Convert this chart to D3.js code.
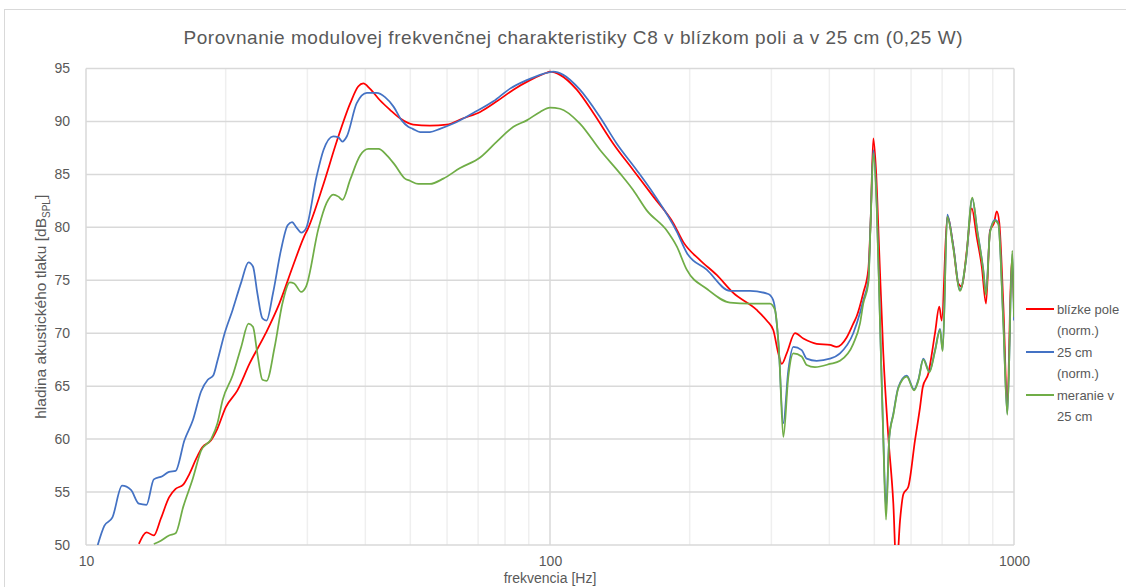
<!DOCTYPE html>
<html>
<head>
<meta charset="utf-8">
<script src="https://cdn.jsdelivr.net/npm/d3@7"></script>
<style>
  body { margin: 0; background: #fff; }
  svg { display: block; font-family: "Liberation Sans", Arial, sans-serif; }
</style>
</head>
<body>
<svg id="chart"></svg>
<script>
const width = 1126;
const height = 587;

// [frequency Hz, level dB]
const nearField = [
  [13.0, 50.1], [13.5, 51.2], [14.0, 50.9], [14.5, 52.5], [15.1, 54.5], [15.6, 55.3], [16.2, 55.7],
  [16.7, 56.7], [17.3, 58.2], [17.8, 59.2], [18.6, 59.9], [19.2, 61.0], [20.0, 63.0], [21.2, 64.6],
  [22.5, 67.1], [24.4, 70.0], [26.1, 72.8], [27.9, 76.3], [29.5, 79.1], [30.1, 79.9], [32.5, 84.1],
  [34.7, 88.1], [37.1, 91.7], [38.6, 93.3], [39.6, 93.6], [40.9, 93.1], [43.0, 92.0], [45.2, 91.1],
  [47.5, 90.3], [50.7, 89.7], [55.1, 89.6], [59.9, 89.7], [65.0, 90.3], [70.7, 90.9], [76.8, 91.9],
  [83.4, 93.0], [90.6, 93.9], [98.4, 94.6], [100, 94.7], [105.1, 94.4], [114.2, 93.0], [124.0, 90.8],
  [136.9, 87.9], [151.2, 85.4], [167.0, 82.9], [184.4, 80.4], [193.8, 78.6], [210.5, 76.9],
  [228.7, 75.5], [248.3, 73.8], [278.9, 72.2], [293.1, 71.2], [302.8, 70.3], [310.5, 68.1],
  [315.8, 67.1], [323.7, 68.1], [337.3, 70.0], [351.5, 69.5], [375.6, 69.0], [401.2, 68.9],
  [414.8, 68.7], [435.9, 69.6], [450.4, 70.9], [458.1, 71.6], [473.3, 73.8], [485.3, 76.0],
  [491.0, 80.7], [497.5, 88.4], [504.2, 85.4], [512.5, 77.5], [522.8, 68.1], [536.0, 60.2],
  [549.5, 53.9], [558.0, 47.5], [568.0, 52.3], [577.4, 54.8], [591.9, 55.5], [611.9, 59.9],
  [627.3, 63.0], [635.8, 64.9], [653.7, 66.2], [675.7, 70.0], [690.2, 72.5], [698.6, 71.2],
  [718.2, 81.0], [740.0, 78.2], [758.6, 74.7], [771.6, 74.4], [791.1, 77.8], [810.9, 81.8],
  [831.0, 79.1], [852.2, 76.3], [870.3, 72.8], [887.8, 79.7], [905.6, 80.4], [917.8, 81.5],
  [929.8, 80.4], [948.2, 72.8], [967.4, 63.4], [988.6, 76.9], [1000, 72.5]
];

const cm25 = [
  [10.6, 50.0], [10.95, 51.8], [11.4, 52.6], [11.96, 55.6], [12.5, 55.2], [13.0, 53.9], [13.5, 53.8],
  [14.0, 56.2], [14.6, 56.5], [15.1, 56.9], [15.6, 57.0], [16.3, 59.9], [17.0, 61.8], [17.7, 64.5],
  [18.3, 65.6], [18.8, 66.0], [19.2, 67.4], [19.9, 70.0], [20.7, 72.2], [21.6, 74.8], [22.4, 76.7],
  [22.9, 76.3], [23.4, 73.8], [24.0, 71.4], [24.5, 71.2], [25.3, 73.8], [26.3, 77.8], [27.2, 80.2],
  [27.8, 80.5], [28.4, 80.0], [29.1, 79.5], [29.8, 79.9], [31.4, 84.8], [32.5, 87.3], [34.1, 88.6],
  [35.0, 88.5], [35.7, 88.1], [36.5, 88.6], [38.3, 91.7], [40.3, 92.7], [42.3, 92.7], [44.1, 92.3],
  [46.0, 91.4], [47.9, 90.1], [49.5, 89.5], [50.6, 89.3], [52.5, 89.0], [55.1, 89.0], [57.9, 89.3],
  [61.9, 89.8], [68.3, 90.8], [75.5, 91.9], [82.0, 93.1], [89.1, 93.9], [96.7, 94.5], [101.6, 94.7],
  [106.8, 94.4], [116.0, 93.0], [128.2, 90.4], [139.3, 87.9], [153.8, 85.4], [167.0, 83.2],
  [187.6, 79.6], [197.1, 77.6], [217.6, 76.0], [244.3, 74.0], [269.8, 74.0], [295.4, 73.7],
  [302.8, 73.1], [310.5, 69.3], [318.3, 61.5], [326.3, 66.5], [334.5, 68.7], [348.7, 68.4],
  [357.4, 67.6], [375.6, 67.4], [401.2, 67.6], [421.7, 68.1], [450.4, 70.0], [465.6, 71.9],
  [473.3, 73.1], [485.3, 75.0], [491.0, 80.7], [497.5, 87.3], [505.9, 82.3], [514.3, 71.2],
  [522.8, 60.2], [529.9, 53.5], [538.6, 60.2], [549.5, 62.4], [563.2, 64.9], [587.3, 66.0],
  [608.9, 64.7], [622.0, 65.6], [637.6, 67.6], [657.0, 66.4], [675.7, 68.4], [692.7, 70.4],
  [701.9, 68.4], [718.2, 81.2], [740.0, 78.2], [764.9, 74.1], [788.1, 76.9], [813.0, 82.7],
  [833.5, 79.7], [858.6, 76.0], [870.3, 73.8], [887.8, 79.6], [910.0, 80.7], [925.1, 80.4],
  [948.2, 71.2], [967.4, 62.4], [991.5, 77.5], [1000, 71.2]
];

const measured = [
  [14.0, 50.1], [14.5, 50.4], [15.1, 50.9], [15.6, 51.1], [16.2, 53.6], [17.0, 56.3], [17.7, 58.9],
  [18.6, 60.0], [19.2, 61.5], [19.7, 63.7], [20.7, 66.0], [21.6, 68.7], [22.4, 70.9], [22.9, 70.6],
  [23.4, 68.1], [24.0, 65.6], [24.5, 65.5], [25.5, 68.7], [26.5, 72.8], [27.5, 74.8], [28.1, 74.7],
  [29.1, 73.9], [29.8, 74.4], [31.7, 79.9], [33.0, 82.3], [34.1, 83.1], [35.0, 82.9], [35.7, 82.6],
  [37.1, 84.5], [39.0, 86.8], [40.6, 87.4], [42.7, 87.4], [44.5, 86.8], [46.3, 85.9], [48.7, 84.6],
  [49.9, 84.4], [52.0, 84.1], [55.1, 84.1], [58.9, 84.6], [64.0, 85.6], [70.7, 86.6], [76.8, 88.1],
  [83.4, 89.5], [89.1, 90.1], [95.2, 90.9], [100, 91.3], [105.1, 91.2], [116.0, 89.8], [128.2, 87.3],
  [141.5, 85.1], [151.2, 83.5], [161.6, 81.6], [178.5, 79.7], [187.6, 78.2], [197.1, 76.0],
  [217.6, 74.2], [244.3, 72.9], [269.8, 72.8], [297.9, 72.8], [305.4, 72.2], [312.0, 67.8],
  [318.3, 60.2], [326.3, 65.9], [334.5, 68.1], [348.7, 67.8], [357.4, 67.0], [372.4, 66.8],
  [401.2, 67.1], [421.7, 67.4], [450.4, 69.0], [465.6, 70.9], [473.3, 72.8], [485.3, 74.7],
  [491.0, 80.5], [497.5, 87.0], [505.9, 82.0], [514.3, 71.0], [522.8, 60.0], [529.9, 52.4],
  [538.6, 60.2], [549.5, 62.3], [563.2, 64.8], [587.3, 65.9], [608.9, 64.6], [622.0, 65.5],
  [637.6, 67.5], [657.0, 66.3], [675.7, 68.3], [692.7, 70.3], [701.9, 68.3], [718.2, 81.0],
  [740.0, 78.0], [764.9, 74.0], [788.1, 77.0], [813.0, 82.8], [833.5, 79.6], [858.6, 75.9],
  [870.3, 73.6], [887.8, 79.5], [910.0, 80.6], [925.1, 80.3], [948.2, 71.0], [967.4, 62.3],
  [991.5, 77.8], [1000, 71.5]
];

const seriesNames = [['blízke pole', '(norm.)'], ['25 cm', '(norm.)'], ['meranie v', '25 cm']];
const seriesColors = ['#ff0000', '#4472c4', '#70ad47'];
const yTicks = [50, 55, 60, 65, 70, 75, 80, 85, 90, 95];
const xTicks = [10, 100, 1000];
const xMinor = [20, 30, 40, 50, 60, 70, 80, 90, 200, 300, 400, 500, 600, 700, 800, 900];

const margin = { top: 68.5, right: 112, bottom: 42, left: 86 };
const plotW = width - margin.left - margin.right;
const plotH = height - margin.top - margin.bottom;

const svg = d3.select('#chart')
  .attr('width', width)
  .attr('height', height);

// outer chart border
svg.append('rect')
  .attr('x', 4.5).attr('y', 9.5)
  .attr('width', width).attr('height', height)
  .attr('fill', '#fff').attr('stroke', '#d9d9d9');

const x = d3.scaleLog().domain([10, 1000]).range([0, plotW]);
const y = d3.scaleLinear().domain([50, 95]).range([plotH, 0]);

const g = svg.append('g').attr('transform', `translate(${margin.left},${margin.top})`);

// minor vertical grid
g.append('g')
  .selectAll('line')
  .data(xMinor)
  .join('line')
  .attr('x1', d => x(d)).attr('x2', d => x(d))
  .attr('y1', 0).attr('y2', plotH)
  .attr('stroke', '#efefef').attr('stroke-width', 1.5);

// horizontal grid
g.append('g')
  .selectAll('line')
  .data(yTicks)
  .join('line')
  .attr('x1', 0).attr('x2', plotW)
  .attr('y1', d => y(d)).attr('y2', d => y(d))
  .attr('stroke', '#d9d9d9').attr('stroke-width', 1.5);

// major vertical grid
g.append('g')
  .selectAll('line')
  .data(xTicks)
  .join('line')
  .attr('x1', d => x(d)).attr('x2', d => x(d))
  .attr('y1', 0).attr('y2', plotH)
  .attr('stroke', '#d9d9d9').attr('stroke-width', 1.5);

// axes
const yAxis = g.append('g')
  .call(d3.axisLeft(y).tickValues(yTicks).tickSize(0).tickPadding(16));
yAxis.select('.domain').remove();
yAxis.selectAll('text').attr('fill', '#595959').style('font-size', '14px');

const xAxis = g.append('g')
  .attr('transform', `translate(0,${plotH})`)
  .call(d3.axisBottom(x).tickValues(xTicks).tickFormat(d3.format('d')).tickSize(0).tickPadding(11));
xAxis.select('.domain').remove();
xAxis.selectAll('text').attr('fill', '#595959').style('font-size', '14px');

// lines
g.append('clipPath').attr('id', 'clip')
  .append('rect').attr('width', plotW).attr('height', plotH);

const line = d3.line()
  .x(d => x(d[0]))
  .y(d => y(d[1]))
  .curve(d3.curveMonotoneX);

const allSeries = [nearField, cm25, measured];

g.append('g')
  .attr('clip-path', 'url(#clip)')
  .selectAll('path')
  .data(allSeries)
  .join('path')
  .attr('d', line)
  .attr('fill', 'none')
  .attr('stroke', (d, i) => seriesColors[i])
  .attr('stroke-width', 1.75)
  .attr('stroke-linejoin', 'round');

// title
svg.append('text')
  .attr('x', 573).attr('y', 44)
  .attr('text-anchor', 'middle')
  .attr('fill', '#595959')
  .attr('textLength', 779)
  .attr('lengthAdjust', 'spacing')
  .style('font-size', '19px')
  .text('Porovnanie modulovej frekvenčnej charakteristiky C8 v blízkom poli a v 25 cm (0,25 W)');

// axis titles
svg.append('text')
  .attr('x', margin.left + x(100)).attr('y', 583)
  .attr('text-anchor', 'middle')
  .attr('fill', '#595959')
  .style('font-size', '14px')
  .text('frekvencia [Hz]');

const yTitle = svg.append('text')
  .attr('transform', `translate(46,${margin.top + plotH / 2}) rotate(-90)`)
  .attr('text-anchor', 'middle')
  .attr('fill', '#595959')
  .style('font-size', '15.5px');
yTitle.append('tspan').text('hladina akustického tlaku [dB');
yTitle.append('tspan').attr('dy', 4).style('font-size', '10px').text('SPL');
yTitle.append('tspan').attr('dy', -4).text(']');

// legend
const legend = svg.append('g')
  .selectAll('g')
  .data(seriesNames)
  .join('g')
  .attr('transform', (d, i) => `translate(1026,${309 + i * 43})`);

legend.append('line')
  .attr('x1', 0).attr('x2', 28)
  .attr('stroke', (d, i) => seriesColors[i])
  .attr('stroke-width', 2);

legend.append('text')
  .attr('x', 31).attr('y', 5)
  .attr('fill', '#595959')
  .style('font-size', '13px')
  .selectAll('tspan')
  .data(d => d)
  .join('tspan')
  .attr('x', 31)
  .attr('dy', (d, i) => i === 0 ? 0 : 21)
  .text(d => d);
</script>
</body>
</html>
